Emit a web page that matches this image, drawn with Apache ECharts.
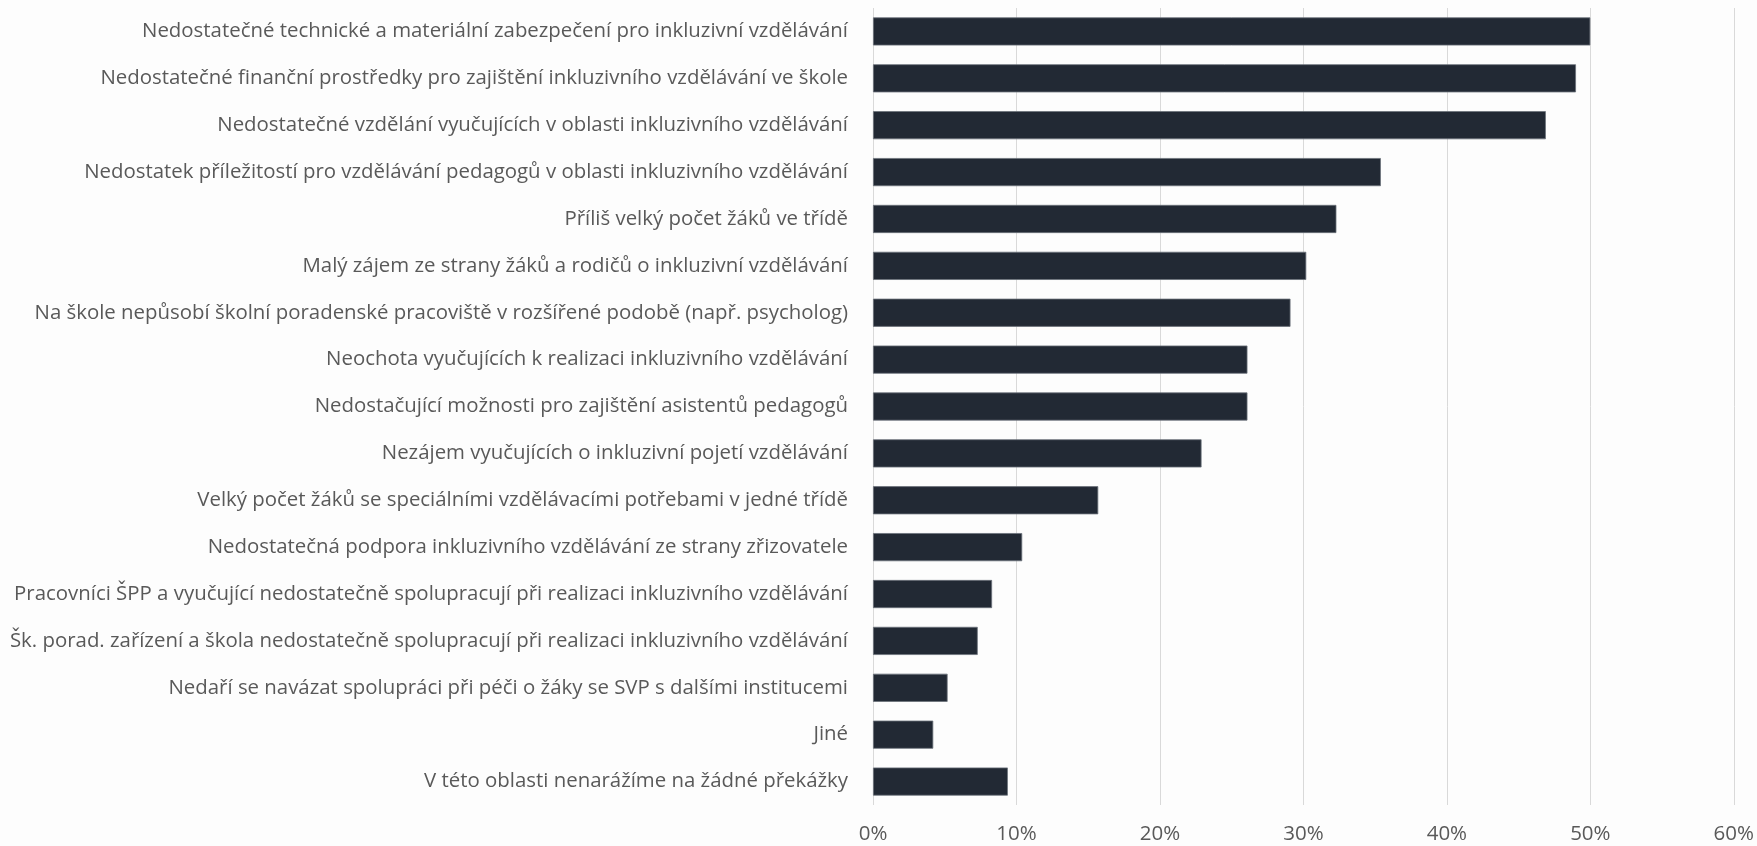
<!DOCTYPE html>
<html>
<head>
<meta charset="utf-8">
<script src="https://cdn.jsdelivr.net/npm/echarts@6/dist/echarts.min.js"></script>
<style>
html,body{margin:0;padding:0;background:#fdfdfd;}
#c{width:1757px;height:846px;}
</style>
</head>
<body>
<div id="c"></div>
<script>
const categories = [
  "Nedostatečné technické a materiální zabezpečení pro inkluzivní vzdělávání",
  "Nedostatečné finanční prostředky pro zajištění inkluzivního vzdělávání ve škole",
  "Nedostatečné vzdělání vyučujících v oblasti inkluzivního vzdělávání",
  "Nedostatek příležitostí pro vzdělávání pedagogů v oblasti inkluzivního vzdělávání",
  "Příliš velký počet žáků ve třídě",
  "Malý zájem ze strany žáků a rodičů o inkluzivní vzdělávání",
  "Na škole nepůsobí školní poradenské pracoviště v rozšířené podobě (např. psycholog)",
  "Neochota vyučujících k realizaci inkluzivního vzdělávání",
  "Nedostačující možnosti pro zajištění asistentů pedagogů",
  "Nezájem vyučujících o inkluzivní pojetí vzdělávání",
  "Velký počet žáků se speciálními vzdělávacími potřebami v jedné třídě",
  "Nedostatečná podpora inkluzivního vzdělávání ze strany zřizovatele",
  "Pracovníci ŠPP a vyučující nedostatečně spolupracují při realizaci inkluzivního vzdělávání",
  "Šk. porad. zařízení a škola nedostatečně spolupracují při realizaci inkluzivního vzdělávání",
  "Nedaří se navázat spolupráci při péči o žáky se SVP s dalšími institucemi",
  "Jiné",
  "V této oblasti nenarážíme na žádné překážky"
];
const values = [50.0, 49.0, 46.9, 35.4, 32.3, 30.2, 29.1, 26.1, 26.1, 22.9, 15.7, 10.4, 8.3, 7.3, 5.2, 4.2, 9.4];
const axisTicks = [0, 10, 20, 30, 40, 50, 60];

const chart = echarts.init(document.getElementById('c'), null, {renderer: 'canvas'});
chart.setOption({
  backgroundColor: '#fdfdfd',
  animation: false,
  grid: {left: 873, right: 23, top: 8, bottom: 41},
  xAxis: {
    type: 'value',
    min: axisTicks[0],
    max: axisTicks[axisTicks.length - 1],
    interval: 10,
    axisLine: {show: false},
    axisTick: {show: false},
    splitLine: {show: true, lineStyle: {color: '#d9d9d9', width: 1}},
    axisLabel: {
      formatter: v => v + '%',
      color: '#595959',
      fontFamily: 'Open Sans',
      fontSize: 20.5,
      margin: 19
    }
  },
  yAxis: {
    type: 'category',
    inverse: true,
    data: categories,
    axisLine: {show: false},
    axisTick: {show: false},
    axisLabel: {
      color: '#595959',
      fontFamily: 'Open Sans',
      fontSize: 20.4,
      margin: 25
    }
  },
  series: [{
    type: 'bar',
    data: values,
    barCategoryGap: '40%',
    itemStyle: {color: '#222934', borderColor: '#6b717a', borderWidth: 0.8}
  }]
});
</script>
</body>
</html>
